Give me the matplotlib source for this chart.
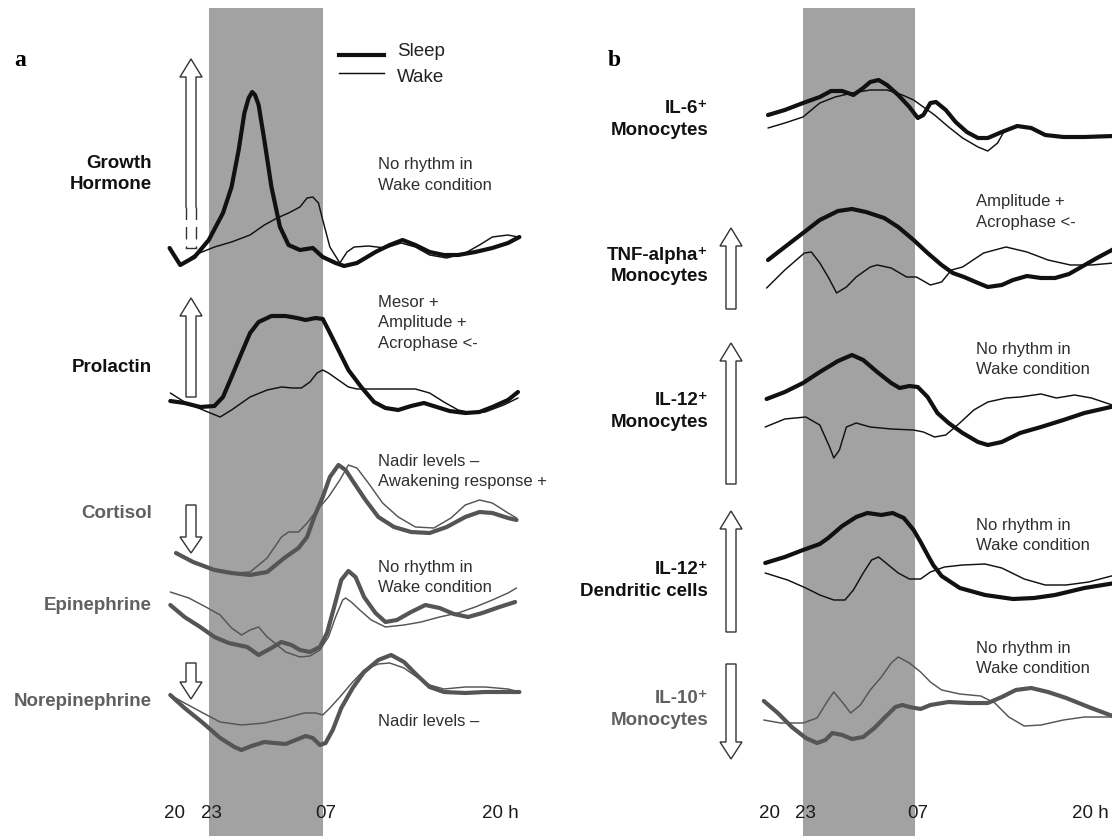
import matplotlib
matplotlib.use("Agg")
import matplotlib.pyplot as plt
from matplotlib.patches import Polygon
from matplotlib.lines import Line2D

plt.rcParams['font.family'] = ['Liberation Sans', 'DejaVu Sans']

W, H = 1112, 836

# ---------------- data (time in hours after 20:00, relative level) ----------------
sleep_start, sleep_end = 3, 11
tick_pos = [0.6, 3.2, 11.2, 23.5]
tick_labels = ['20', '23', '07', '20 h']

gh_sleep_t = [0.25, 1.0, 2, 3, 4, 4.6, 5.1, 5.5, 5.8, 6.05, 6.25, 6.5, 6.9, 7.4, 8, 8.6, 9.4, 10.3, 11, 11.9, 12.5, 13.4, 14.7, 15.7, 16.6, 17.5, 18.5, 19.5, 20.5, 21.7, 22.9, 24, 24.8]
gh_sleep_v = [22, 5, 13, 30, 57, 83, 120, 157, 172, 178, 175, 165, 130, 83, 43, 25, 20, 22, 13, 7, 4, 7, 18, 25, 30, 25, 18, 15, 15, 18, 22, 27, 33]
gh_wake_t = [1.0, 2, 3.4, 4.6, 5.9, 6.9, 7.8, 8.6, 9.4, 9.9, 10.3, 10.7, 11, 11.5, 12.2, 12.7, 13.2, 14.2, 15.4, 16.5, 17.5, 18.5, 19.7, 21, 22, 22.9, 24, 24.7]
gh_wake_v = [5, 15, 23, 28, 35, 45, 52, 57, 63, 72, 73, 67, 50, 23, 7, 18, 23, 24, 22, 27, 23, 15, 12, 17, 25, 33, 35, 33]

prl_sleep_t = [0.3, 1.3, 2.4, 3.4, 4, 4.6, 5.3, 5.9, 6.5, 7.4, 8.4, 9.2, 9.8, 10.5, 11, 11.4, 12.1, 12.8, 13.7, 14.6, 15.4, 16.3, 17.2, 18.1, 19, 19.9, 21, 22, 22.9, 24, 24.7]
prl_sleep_v = [19, 17, 13, 14, 23, 43, 67, 87, 98, 104, 104, 102, 100, 102, 101, 90, 70, 50, 33, 18, 12, 10, 14, 17, 13, 9, 7, 8, 13, 20, 28]
prl_wake_t = [0.3, 1.3, 2.6, 3.8, 4.6, 5.9, 7.1, 8.1, 8.9, 9.5, 10.1, 10.6, 11, 11.4, 12.1, 12.8, 13.4, 14.7, 16, 17.5, 18.5, 19.5, 20.5, 21.5, 22.4, 23.7, 24.7]
prl_wake_v = [27, 18, 10, 3, 10, 23, 30, 33, 32, 32, 38, 47, 50, 47, 40, 33, 31, 31, 31, 31, 27, 18, 10, 7, 8, 15, 22]

cort_sleep_t = [0.7, 1.9, 3.4, 4.6, 5.9, 7.1, 8.3, 9.3, 9.9, 10.4, 11, 11.5, 12.1, 12.6, 13.2, 14, 14.9, 16, 17.2, 18.5, 19.7, 21, 22, 22.9, 24, 24.6]
cort_sleep_v = [27, 18, 10, 7, 5, 8, 22, 32, 43, 63, 83, 103, 115, 110, 97, 80, 63, 53, 48, 47, 53, 63, 68, 67, 62, 60]
cort_wake_t = [5.0, 5.9, 7.1, 8.1, 8.6, 9.3, 9.9, 10.6, 11.4, 12.2, 12.8, 13.4, 14.2, 15.2, 16.3, 17.5, 18.8, 20, 21, 22, 22.9, 24, 24.6]
cort_wake_v = [7, 8, 22, 43, 48, 48, 57, 70, 83, 100, 115, 112, 97, 77, 63, 53, 52, 62, 75, 80, 77, 67, 62]

epi_sleep_t = [0.3, 1.3, 2.4, 3.4, 4.4, 5.7, 6.5, 7.4, 8.1, 8.8, 9.4, 10.1, 10.8, 11.3, 11.8, 12.3, 12.8, 13.3, 13.9, 14.7, 15.4, 16.2, 17.2, 18.2, 19.2, 20.2, 21.2, 22.2, 23.4, 24.5]
epi_sleep_v = [55, 43, 33, 23, 17, 13, 5, 12, 18, 15, 10, 8, 13, 27, 53, 80, 89, 83, 63, 47, 38, 40, 48, 55, 52, 46, 43, 47, 53, 58]
epi_wake_t = [0.3, 1.6, 2.8, 3.8, 4.6, 5.3, 5.9, 6.5, 7.1, 7.8, 8.4, 9.4, 10.1, 10.8, 11.4, 11.9, 12.4, 12.6, 13, 13.6, 14.4, 15.4, 16.7, 17.9, 19.2, 20.5, 21.7, 22.9, 24, 24.6]
epi_wake_v = [68, 62, 53, 45, 32, 25, 30, 33, 23, 15, 8, 3, 4, 10, 23, 43, 60, 62, 58, 50, 40, 33, 35, 38, 43, 47, 53, 60, 67, 72]

ne_sleep_t = [0.3, 1.3, 2.6, 3.8, 4.8, 5.3, 6, 6.9, 7.6, 8.4, 9.1, 9.8, 10.3, 10.8, 11.2, 11.7, 12.3, 13.1, 13.9, 14.9, 15.8, 16.7, 17.6, 18.5, 19.5, 21, 22.4, 24, 24.8]
ne_sleep_v = [65, 52, 37, 22, 13, 10, 14, 18, 17, 16, 20, 24, 22, 15, 17, 30, 52, 72, 88, 100, 105, 98, 85, 73, 68, 67, 68, 68, 68]
ne_wake_t = [0.3, 1.3, 2.6, 3.8, 5.3, 6.9, 8.4, 9.7, 10.5, 11, 11.5, 12.2, 13.1, 13.9, 14.9, 15.7, 16.7, 17.6, 18.5, 19.5, 21, 22.4, 24, 24.8]
ne_wake_v = [65, 57, 47, 38, 35, 37, 42, 47, 47, 45, 52, 63, 78, 90, 96, 97, 92, 83, 75, 71, 73, 73, 71, 68]

il6_sleep_t = [0.5, 1.7, 3, 4.2, 5, 5.8, 6.6, 7.3, 7.8, 8.4, 9, 9.8, 10.6, 11.2, 11.6, 12.1, 12.5, 13.2, 13.9, 14.7, 15.5, 16.2, 17.2, 18.3, 19.3, 20.3, 21.6, 23.1, 25.2]
il6_sleep_v = [25, 30, 37, 43, 49, 49, 45, 52, 58, 60, 55, 45, 33, 22, 25, 37, 38, 30, 18, 8, 2, 2, 8, 14, 12, 5, 3, 3, 4]
il6_wake_t = [0.5, 1.7, 3, 4.2, 5.3, 6.5, 7.8, 9, 10.1, 10.9, 11.6, 12.4, 13.4, 14.4, 15.5, 16.2, 16.9, 17.3]
il6_wake_v = [12, 17, 23, 37, 43, 47, 50, 50, 45, 40, 33, 25, 13, 2, -7, -11, -3, 7]

tnf_sleep_t = [0.5, 1.7, 3, 4.2, 5.5, 6.5, 7.5, 8.8, 9.8, 10.9, 11.9, 12.9, 13.7, 14.5, 15.5, 16.2, 17.2, 18, 19, 20, 21, 22, 23, 24, 25.2]
tnf_sleep_v = [30, 43, 57, 70, 79, 81, 78, 72, 63, 50, 37, 25, 17, 13, 7, 3, 5, 10, 14, 12, 12, 16, 24, 32, 41]
tnf_wake_t = [0.4, 1.7, 3.1, 3.6, 4.2, 4.8, 5.4, 6.1, 6.8, 7.8, 8.3, 9.3, 10.4, 11.1, 12.1, 12.9, 13.6, 14.4, 15.9, 17.5, 19, 20.5, 22.1, 23.6, 25.2]
tnf_wake_v = [2, 20, 37, 38, 27, 13, -3, 3, 13, 23, 25, 22, 13, 13, 5, 8, 20, 23, 37, 43, 38, 30, 25, 25, 27]

il12m_sleep_t = [0.4, 1.7, 3, 4.2, 5.5, 6.5, 7.3, 8.3, 9.3, 9.9, 10.6, 11.2, 11.9, 12.6, 13.4, 14.4, 15.5, 16.2, 17.2, 18.5, 20, 21.6, 23.1, 25.3]
il12m_sleep_v = [61, 68, 77, 88, 99, 105, 100, 88, 77, 72, 74, 73, 63, 47, 37, 27, 18, 15, 18, 27, 33, 40, 47, 54]
il12m_wake_t = [0.3, 1.7, 3.2, 4.2, 4.9, 5.2, 5.6, 6.1, 6.8, 7.8, 9.3, 10.9, 11.6, 12.4, 13.2, 14.2, 15.2, 16.2, 17.5, 18.5, 20, 21.1, 22.4, 23.6, 25.3]
il12m_wake_v = [33, 41, 43, 35, 13, 2, 10, 33, 37, 33, 31, 30, 28, 23, 25, 37, 50, 58, 62, 63, 66, 62, 65, 62, 54]

il12dc_sleep_t = [0.3, 1.7, 3, 4.2, 4.8, 5.3, 5.8, 6.8, 7.6, 8.6, 9.4, 10.2, 10.9, 11.4, 11.9, 12.3, 12.9, 14.2, 16, 18, 19.5, 21, 23.1, 25.3]
il12dc_sleep_v = [37, 43, 50, 56, 62, 68, 74, 83, 87, 85, 87, 82, 70, 58, 45, 35, 24, 12, 5, 1, 2, 5, 12, 17]
il12dc_wake_t = [0.3, 1.9, 3.2, 4.2, 5.2, 6, 6.6, 7.3, 7.9, 8.4, 9.1, 9.8, 10.6, 11.4, 12.1, 13.1, 14.4, 16, 17.2, 18.8, 20.3, 21.8, 23.4, 25.3]
il12dc_wake_v = [27, 20, 12, 5, 0, 0, 10, 27, 40, 43, 35, 27, 21, 21, 28, 33, 35, 36, 32, 21, 15, 15, 18, 25]

il10_sleep_t = [0.2, 1.2, 2.2, 3.2, 4, 4.6, 5.1, 5.8, 6.5, 7.3, 8.1, 8.8, 9.6, 10.1, 10.6, 11.4, 12.1, 13.4, 14.9, 16.2, 17.2, 18.2, 19.3, 20.5, 21.8, 23.4, 25.3]
il10_sleep_v = [44, 32, 18, 7, 2, 5, 12, 10, 6, 8, 17, 27, 38, 40, 38, 36, 40, 43, 42, 42, 48, 55, 57, 53, 47, 38, 28]
il10_wake_t = [0.2, 1.4, 3, 4, 4.8, 5.2, 5.8, 6.4, 7.1, 7.8, 8.6, 9.3, 9.8, 10.6, 11.4, 12.1, 12.9, 14.2, 15.7, 16.7, 17.7, 18.8, 20, 21.6, 23.1, 25.3]
il10_wake_v = [25, 22, 22, 27, 45, 53, 43, 32, 40, 55, 68, 82, 88, 82, 73, 63, 55, 51, 49, 42, 28, 19, 20, 25, 28, 28]

# ---------------- styling ----------------
BLACK = '#111111'
GREY = '#555555'
GREY_TXT = '#606060'
ANN = '#2e2e2e'
BAND = '#a2a2a2'
THICK, THIN = 3.0, 1.05

fig = plt.figure(figsize=(W / 100, H / 100), dpi=100)


def make_panel(left_px, right_px, t0_px, px_per_h):
    ax = fig.add_axes([left_px / W, 0, (right_px - left_px) / W, 1])
    ax.set_xlim((left_px - t0_px) / px_per_h, (right_px - t0_px) / px_per_h)
    ax.set_ylim(0, H)
    ax.axis('off')
    ax.axvspan(sleep_start, sleep_end, ymin=0, ymax=(H - 8) / H, color=BAND, lw=0, zorder=0)
    for p, lab in zip(tick_pos, tick_labels):
        ax.text(p, H - 813, lab, ha='center', va='center', fontsize=13.5, color='#1a1a1a')
    return ax


ax_a = make_panel(0, 556, 166, 14.25)
ax_b = make_panel(556, 1112, 761, 14.0)

rows = [
    (ax_a, 270, gh_sleep_t, gh_sleep_v, gh_wake_t, gh_wake_v, BLACK),
    (ax_a, 420, prl_sleep_t, prl_sleep_v, prl_wake_t, prl_wake_v, BLACK),
    (ax_a, 580, cort_sleep_t, cort_sleep_v, cort_wake_t, cort_wake_v, GREY),
    (ax_a, 660, epi_sleep_t, epi_sleep_v, epi_wake_t, epi_wake_v, GREY),
    (ax_a, 760, ne_sleep_t, ne_sleep_v, ne_wake_t, ne_wake_v, GREY),
    (ax_b, 140, il6_sleep_t, il6_sleep_v, il6_wake_t, il6_wake_v, BLACK),
    (ax_b, 290, tnf_sleep_t, tnf_sleep_v, tnf_wake_t, tnf_wake_v, BLACK),
    (ax_b, 460, il12m_sleep_t, il12m_sleep_v, il12m_wake_t, il12m_wake_v, BLACK),
    (ax_b, 600, il12dc_sleep_t, il12dc_sleep_v, il12dc_wake_t, il12dc_wake_v, BLACK),
    (ax_b, 745, il10_sleep_t, il10_sleep_v, il10_wake_t, il10_wake_v, GREY),
]
for ax, base_px, st, sv, wt, wv, col in rows:
    base = H - base_px
    ax.plot(wt, [base + v for v in wv], color=col, lw=THIN, zorder=2,
            solid_joinstyle='round', solid_capstyle='round')
    ax.plot(st, [base + v for v in sv], color=col, lw=THICK, zorder=3,
            solid_joinstyle='round', solid_capstyle='round')

# ---------------- overlay for labels, arrows, legend ----------------
ov = fig.add_axes([0, 0, 1, 1])
ov.set_xlim(0, W)
ov.set_ylim(H, 0)
ov.axis('off')
ov.patch.set_alpha(0)

ov.text(20, 66, 'a', fontsize=17, fontweight='bold', family='Liberation Serif', va='baseline', ha='center')
ov.text(614, 66, 'b', fontsize=17, fontweight='bold', family='Liberation Serif', va='baseline', ha='center')

# legend
ov.add_line(Line2D([339, 384], [55, 55], color=BLACK, lw=THICK))
ov.add_line(Line2D([339, 384], [73, 73], color=BLACK, lw=THIN))
ov.text(397, 52, 'Sleep', fontsize=13.5, va='center', ha='left', color='#222222')
ov.text(397, 77, 'Wake', fontsize=13.5, va='center', ha='left', color='#222222')

labels = [
    (152, 174, 'Growth\nHormone', BLACK), (152, 367, 'Prolactin', BLACK),
    (152, 513, 'Cortisol', GREY_TXT), (152, 605, 'Epinephrine', GREY_TXT),
    (152, 702, 'Norepinephrine', GREY_TXT),
    (708, 119.5, 'IL-6\u207a\nMonocytes', BLACK), (708, 266, 'TNF-alpha\u207a\nMonocytes', BLACK),
    (708, 411.5, 'IL-12\u207a\nMonocytes', BLACK), (708, 580.5, 'IL-12\u207a\nDendritic cells', BLACK),
    (708, 709.5, 'IL-10\u207a\nMonocytes', GREY_TXT),
]
for x, y, s, c in labels:
    ov.text(x, y, s, fontsize=13.5, fontweight='bold', ha='right', va='center',
            color=c, linespacing=1.38, multialignment='right')

notes = [
    (378, 175, 'No rhythm in\nWake condition'),
    (378, 323, 'Mesor +\nAmplitude +\nAcrophase <-'),
    (378, 471.5, 'Nadir levels \u2013\nAwakening response +'),
    (378, 577.5, 'No rhythm in\nWake condition'),
    (378, 722, 'Nadir levels \u2013'),
    (976, 212, 'Amplitude +\nAcrophase <-'),
    (976, 359.5, 'No rhythm in\nWake condition'),
    (976, 535.5, 'No rhythm in\nWake condition'),
    (976, 658.5, 'No rhythm in\nWake condition'),
]
for x, y, s in notes:
    ov.text(x, y, s, fontsize=12, ha='left', va='center', color=ANN, linespacing=1.42)


def hollow_arrow(xc, y_tail, y_tip, head_len=18, hw=11, sw=5, color='#333333'):
    d = 1 if y_tail > y_tip else -1
    yb = y_tip + d * head_len
    pts = [(xc - sw, y_tail), (xc - sw, yb), (xc - hw, yb), (xc, y_tip),
           (xc + hw, yb), (xc + sw, yb), (xc + sw, y_tail)]
    ov.add_patch(Polygon(pts, closed=True, fc='white', ec=color, lw=1.0, joinstyle='miter'))


# Growth hormone arrow: solid top, dashed lower part
xc = 191
pts = [(xc - 5, 207), (xc - 5, 77), (xc - 11, 77), (xc, 59), (xc + 11, 77), (xc + 5, 77), (xc + 5, 207)]
ov.add_line(Line2D([p[0] for p in pts], [p[1] for p in pts], color='#333333', lw=1.0))
for dx in (-5, 5):
    ov.add_line(Line2D([xc + dx, xc + dx], [207, 248], color='#333333', lw=1.0, linestyle=(0, (9, 5))))
ov.add_line(Line2D([xc - 5, xc + 5], [248, 248], color='#333333', lw=1.0))

hollow_arrow(191, 397, 298)
hollow_arrow(191, 505, 553, head_len=16)
hollow_arrow(191, 663, 699, head_len=17)
hollow_arrow(731, 309, 228)
hollow_arrow(731, 484, 343)
hollow_arrow(731, 632, 511)
hollow_arrow(731, 664, 759, head_len=17)

fig.savefig('out.png', dpi=100)
